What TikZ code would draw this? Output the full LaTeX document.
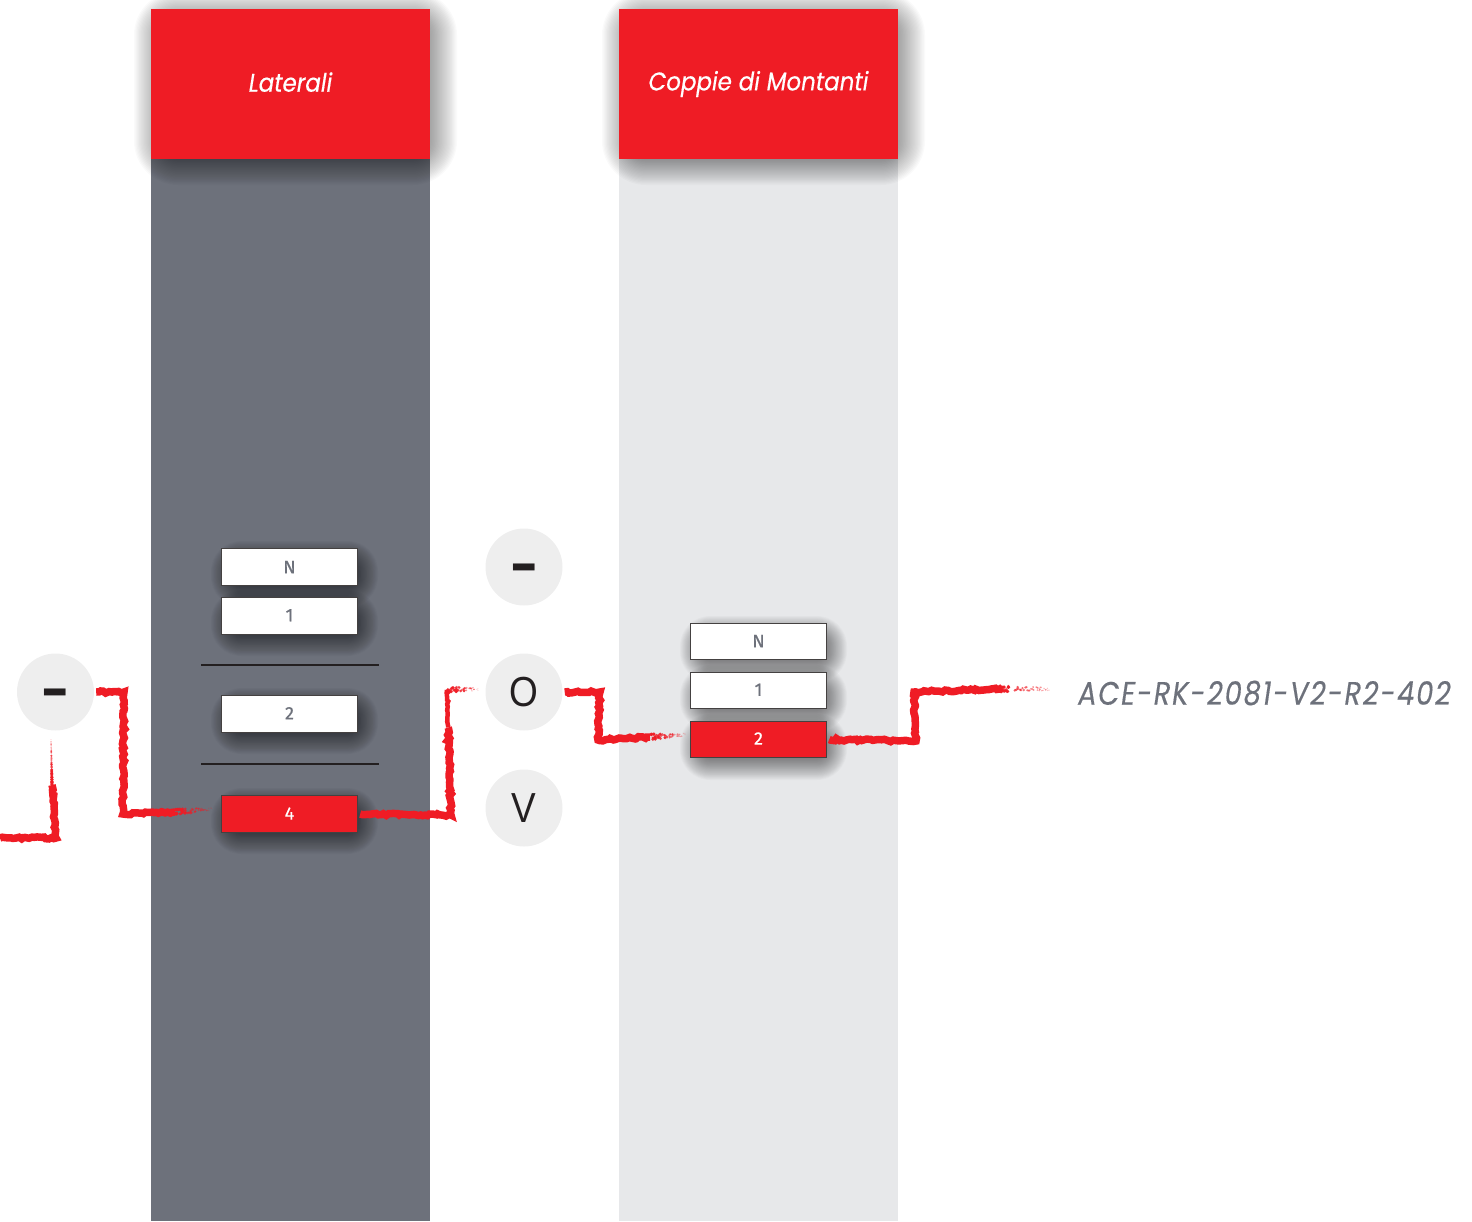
\documentclass[tikz,border=0pt]{standalone}
\usepackage{fontspec}
\usetikzlibrary{calc,decorations.pathmorphing}
\newfontfamily\popf[FakeStretch=.9,FakeBold=.4]{Poppins}
\newfontfamily\popl[FakeStretch=.84,FakeBold=.4,LetterSpace=5.5]{Poppins}
\newfontfamily\boxf[FakeBold=.5]{Fira Sans}
\newfontfamily\circf[FakeStretch=.88]{Liberation Sans}
\newfontfamily\dashf{DejaVu Sans Bold}
\definecolor{brandred}{HTML}{EF1C25}
\definecolor{slategrey}{HTML}{6D717B}
\definecolor{palegrey}{HTML}{E7E8EA}
\definecolor{circgrey}{HTML}{EEEEEE}
\definecolor{inkdark}{HTML}{231F20}
\tikzset{
 colbox/.style={inner sep=0,minimum width=279pt,minimum height=#1,anchor=north},
 headbox/.style={fill=brandred,text=white,inner sep=0,minimum width=279pt,minimum height=150pt,font=\popf\itshape\fontsize{25.5}{25.5}\selectfont},
 keybox/.style={draw=inkdark!85,line width=.9pt,fill=white,text=slategrey,inner sep=0,minimum width=136.5pt,minimum height=36.5pt,font=\boxf\fontsize{18}{18}\selectfont},
 keyred/.style={keybox,fill=brandred,text=white},
 roundel/.style={circle,fill=circgrey,inner sep=0,minimum size=77pt,text=inkdark,font=\circf\fontsize{42}{42}\selectfont},
 dashtext/.style={roundel,font=\dashf\fontsize{55}{55}\selectfont},
 sepline/.style={inkdark,line width=1.5pt},
 roughline/.style={brandred,line width=7.5pt,line join=miter,
   decorate,decoration={random steps,segment length=2.6pt,amplitude=1.15pt}},
 roughthin/.style={roughline,line width=4.5pt},
}
\newcommand{\softshadow}[5]{% x1 y1 x2 y2 reach
 \foreach \i in {0,...,35}{
  \pgfmathsetmacro{\ee}{#5*(1-\i/17.5)}
  \pgfmathsetmacro{\rr}{max(1,#5+\ee)}
  \fill[black,opacity=.02,rounded corners=\rr pt]
    ({#1-\ee},{#2-\ee}) rectangle ({#3+\ee},{#4+\ee});
 }}
\newcommand{\fadeout}[2]{% specks thinning from #1 to #2
 \foreach \i in {1,...,60}{
  \pgfmathsetmacro{\tt}{rnd^1.3}
  \pgfmathsetmacro{\dd}{(rnd-.5)*6*(1-.5*\tt)}
  \pgfmathsetmacro{\ss}{(1.5-\tt)*1.2}
  \pgfmathsetmacro{\oo}{.95-.75*\tt}
  \fill[brandred,opacity=\oo] ($(#1)!\tt!(#2)+(0pt,\dd pt)$) circle (\ss pt);
 }}
\begin{document}
\begin{tikzpicture}[x=1pt,y=-1pt]
\pgfmathsetseed{2081}
\useasboundingbox (0,0) rectangle (1472,1221);
% columns
\node[colbox=1212pt,fill=slategrey] (colL) at (290.5,9) {};
\node[colbox=1212pt,fill=palegrey] (colR) at (758.5,9) {};
% header shadows
\softshadow{156}{13}{435}{163}{22}
\softshadow{624}{13}{903}{163}{22}
\node[headbox] (headL) at (290.5,84) {\raisebox{4pt}{Laterali}};
\node[headbox] (headR) at (758.5,84) {\raisebox{2pt}{Coppie di Montanti}};
% key shadows
\softshadow{226}{556}{363}{592}{15}
\softshadow{226}{605}{363}{641}{15}
\softshadow{226}{703}{363}{739}{15}
\softshadow{226}{803}{363}{839}{15}
\softshadow{695}{631}{832}{667}{15}
\softshadow{695}{680}{832}{716}{15}
\softshadow{695}{729}{832}{765}{15}
% separators
\coordinate (sepAa) at (201,665); \coordinate (sepAb) at (379,665);
\coordinate (sepBa) at (201,764); \coordinate (sepBb) at (379,764);
\draw[sepline] (sepAa) -- (sepAb);
\draw[sepline] (sepBa) -- (sepBb);
% keys
\node[keybox] (lN) at (289.5,567) {\raisebox{0pt}{N}};
\node[keybox] (l1) at (289.5,616) {\raisebox{1.5pt}{1}};
\node[keybox] (l2) at (289.5,714) {\raisebox{1.5pt}{2}};
\node[keyred] (l4) at (289.5,814) {\raisebox{1pt}{4}};
\node[keybox] (rN) at (758.5,641.5) {\raisebox{1pt}{N}};
\node[keybox] (r1) at (758.5,690.5) {\raisebox{1.5pt}{1}};
\node[keyred] (r2) at (758.5,739.5) {\raisebox{2pt}{2}};
% roundels
\node[dashtext] (mL) at (55.5,692) {\raisebox{-15.5pt}[0pt][0pt]{–}};
\node[dashtext] (mT) at (524,567) {\raisebox{-15.5pt}[0pt][0pt]{–}};
\node[roundel] (oO) at (524,692) {O};
\node[roundel] (vV) at (524,808) {V};
% label
\node[anchor=west,inner sep=0,text=slategrey,font=\popl\itshape\fontsize{32.5}{32.5}\selectfont] (code) at (1078,693) {ACE-RK-2081-V2-R2-402};
% connector corners and free ends
\coordinate (aS) at (0,838);   \coordinate (a1) at (56,838);  \coordinate (a2) at (52,785); \coordinate (a3) at (51,740);
\coordinate (b1) at (124,692); \coordinate (b2) at (123,814); \coordinate (b3) at (175,812); \coordinate (b4) at (212,809);
\coordinate (c1) at (451,815); \coordinate (c2) at (447,690); \coordinate (c3) at (478,689);
\coordinate (d1) at (600,692); \coordinate (d2) at (598,740); \coordinate (d3) at (650,737); \coordinate (d4) at (685,735);
\coordinate (e1) at (916,741); \coordinate (e2) at (914,692); \coordinate (e3) at (1000,689); \coordinate (e4) at (1053,689);
% connectors
\draw[roughline] (aS) -- (a1) -- (a2);
\fadeout{a2}{a3}
\draw[roughline] ([xshift=2pt]mL.east) -- (b1) -- (b2) -- (b3);
\fadeout{b3}{b4}
\draw[roughline] ([xshift=2pt]l4.east) -- (c1) -- ($(c1)!.7!(c2)$);
\draw[roughthin] ($(c1)!.7!(c2)$) -- (c2);
\fadeout{c2}{c3}
\draw[roughline] ([xshift=2pt]oO.east) -- (d1) -- (d2) -- (d3);
\fadeout{d3}{d4}
\draw[roughline] ([xshift=2pt]r2.east) -- (e1) -- (e2) -- (e3);
\fadeout{e3}{e4}
\end{tikzpicture}
\end{document}
